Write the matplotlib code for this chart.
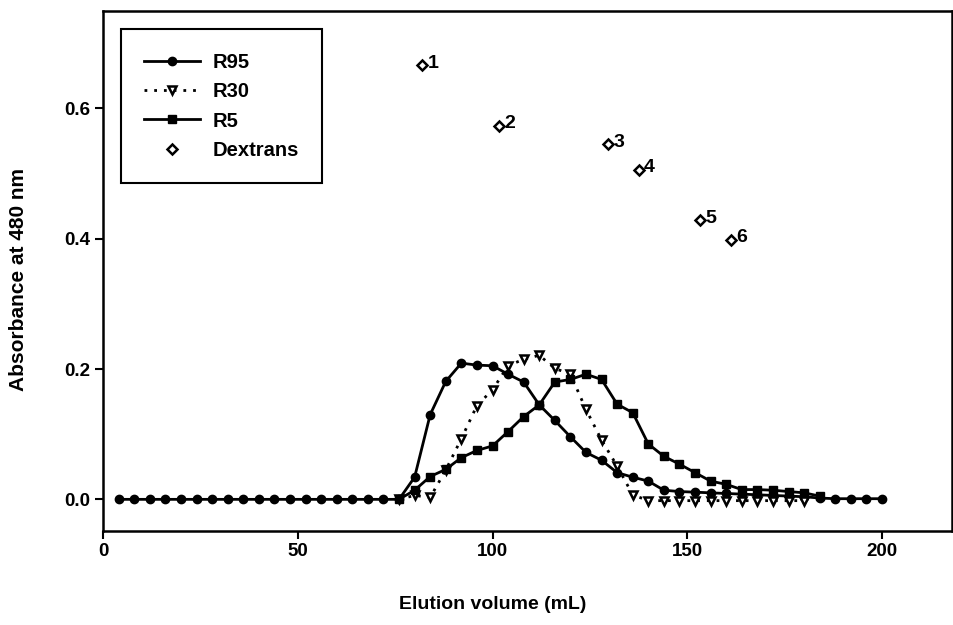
import matplotlib
matplotlib.use('Agg')
from matplotlib import pyplot as plt

plt.rcParams['font.family'] = ['Liberation Sans', 'DejaVu Sans']
plt.rcParams['font.weight'] = 'bold'

# elution volume (mL), one fraction every 4 mL
r95_x = list(range(4, 204, 4))
r95_y = [0.0] * 19 + [0.034, 0.130, 0.181, 0.209, 0.206, 0.205, 0.192, 0.180,
                      0.145, 0.121, 0.096, 0.072, 0.060, 0.041, 0.034, 0.028,
                      0.014, 0.012, 0.011, 0.010, 0.009, 0.008, 0.007, 0.006,
                      0.005, 0.004, 0.002, 0.001, 0.001, 0.001, 0.001]

r30_x = list(range(76, 184, 4))
r30_y = [0.0, 0.006, 0.003, 0.045, 0.093, 0.144, 0.168, 0.205, 0.215, 0.221,
         0.201, 0.192, 0.138, 0.091, 0.051, 0.007, -0.002, -0.002, -0.002,
         -0.002, -0.002, -0.002, -0.002, -0.002, -0.002, -0.002, -0.002]

r5_x = list(range(76, 188, 4))
r5_y = [0.0, 0.014, 0.035, 0.046, 0.064, 0.075, 0.082, 0.104, 0.127, 0.145,
        0.180, 0.184, 0.192, 0.184, 0.146, 0.133, 0.085, 0.066, 0.054, 0.041,
        0.028, 0.023, 0.015, 0.015, 0.014, 0.012, 0.010, 0.005]

dex_x = [82.0, 101.6, 129.6, 137.5, 153.3, 161.2]
dex_y = [0.666, 0.573, 0.545, 0.506, 0.428, 0.398]
dex_labels = ['1', '2', '3', '4', '5', '6']


def main():
    fig = plt.figure(figsize=(9.54, 6.25), dpi=100)
    ax = fig.add_axes([0.108, 0.151, 0.890, 0.831])

    ax.plot(r95_x, r95_y, color='black', linewidth=2, marker='o',
            markersize=6, label='R95')
    ax.plot(r30_x, r30_y, color='black', linewidth=2, linestyle=(0, (1, 2.5)),
            marker='v', markersize=6, markerfacecolor='white',
            markeredgewidth=1.8, label='R30')
    ax.plot(r5_x, r5_y, color='black', linewidth=2, marker='s',
            markersize=5.5, label='R5')
    ax.plot(dex_x, dex_y, linestyle='none', marker='D', markersize=5,
            markerfacecolor='white', markeredgecolor='black',
            markeredgewidth=1.8, label='Dextrans')

    for x, y, t in zip(dex_x, dex_y, dex_labels):
        ax.annotate(t, (x, y), xytext=(4, 1.5), textcoords='offset points',
                    ha='left', va='center', fontsize=14, fontweight='bold')

    ax.set_xlim(0, 218)
    ax.set_ylim(-0.048, 0.749)
    ax.set_xticks([0, 50, 100, 150, 200])
    ax.set_yticks([0.0, 0.2, 0.4, 0.6])
    ax.set_yticklabels(['0.0', '0.2', '0.4', '0.6'])
    ax.tick_params(direction='out', length=6, width=1.5, labelsize=13.5,
                   pad=3)

    for s in ax.spines.values():
        s.set_linewidth(1.8)

    ax.set_xlabel('Elution volume (mL)', fontsize=14, fontweight='bold')
    ax.xaxis.set_label_coords(0.459, -0.125)
    ax.set_ylabel('Absorbance at 480 nm', fontsize=15, fontweight='bold')
    ax.yaxis.set_label_coords(-0.088, 0.483)

    leg = ax.legend(loc='upper left', bbox_to_anchor=(0.021, 0.965),
                    borderaxespad=0, fancybox=False, edgecolor='black',
                    framealpha=1, fontsize=14.5, handlelength=2.8,
                    handletextpad=0.6, labelspacing=0.52, borderpad=1.15)
    leg.get_frame().set_linewidth(1.5)

    fig.savefig('out.png', dpi=100)


if __name__ == "__main__":
    main()
